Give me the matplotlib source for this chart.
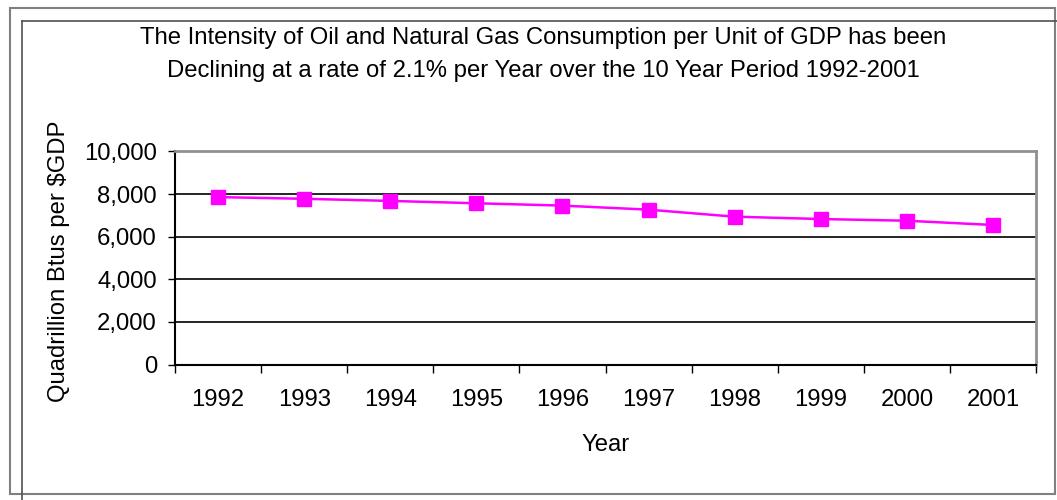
import matplotlib.pyplot as plt
from matplotlib.patches import Rectangle
from matplotlib.lines import Line2D

years = ['1992', '1993', '1994', '1995', '1996', '1997', '1998', '1999', '2000', '2001']
intensity = [7860, 7780, 7680, 7570, 7460, 7270, 6940, 6830, 6750, 6550]
y_ticks = [0, 2000, 4000, 6000, 8000, 10000]

plt.rcParams['font.family'] = ['Liberation Sans', 'DejaVu Sans']
FS = 17.2

W, H = 1057, 500
fig = plt.figure(figsize=(W / 100, H / 100), dpi=100)

# frames around the chart (pixel coords -> figure fraction)
def fx(x):
    return x / W

def fy(y):
    return 1 - y / H

fig.patches.append(Rectangle((fx(10), fy(494)), fx(1055) - fx(10), fy(8) - fy(494),
                             transform=fig.transFigure, fill=False, edgecolor='#808080', lw=1.5))
fig.lines.append(Line2D([fx(22), fx(22)], [fy(21), 0], transform=fig.transFigure, color='#505050', lw=1.2))
fig.lines.append(Line2D([fx(22), 1], [fy(21), fy(21)], transform=fig.transFigure, color='#505050', lw=1.2))

left, right, top, bottom = 175, 1036, 151.5, 364.5
ax = fig.add_axes([fx(left), fy(bottom), fx(right) - fx(left), fy(top) - fy(bottom)])

x = list(range(len(years)))
ax.plot(x, intensity, color='#FF00FF', lw=1.8, marker='s', markersize=9.5, zorder=3)

ax.set_xlim(-0.5, len(years) - 0.5)
ax.set_ylim(0, 10000)
ax.set_yticks(y_ticks)
ax.set_yticklabels([f'{v:,}' for v in y_ticks], fontsize=FS)
ax.set_xticks(x)
ax.set_xticklabels(years, fontsize=FS)
ax.tick_params(axis='x', length=0, pad=18)
ax.tick_params(axis='y', length=5, width=1, pad=8, direction='out')
# tick marks between categories
ax.set_xticks([i - 0.5 for i in range(len(years) + 1)], minor=True)
ax.tick_params(axis='x', which='minor', length=6, width=1, direction='out')

for v in y_ticks[1:-1]:
    ax.axhline(v, color='black', lw=1.2, zorder=1)

ax.spines['top'].set_color('#909090')
ax.spines['right'].set_color('#909090')
ax.spines['top'].set_linewidth(2)
ax.spines['right'].set_linewidth(2)
ax.spines['left'].set_linewidth(1.5)
ax.spines['bottom'].set_linewidth(1.5)

ax.set_xlabel('Year', fontsize=FS, labelpad=16)
ax.set_ylabel('Quadrillion Btus per $GDP', fontsize=FS)
ax.yaxis.set_label_coords(-0.122, 0.486)

fig.text(fx(543), fy(38), 'The Intensity of Oil and Natural Gas Consumption per Unit of GDP has been',
         ha='center', va='center', fontsize=FS)
fig.text(fx(543), fy(71), 'Declining at a rate of 2.1% per Year over the 10 Year Period 1992-2001',
         ha='center', va='center', fontsize=FS)

fig.savefig('out.png', dpi=100)
